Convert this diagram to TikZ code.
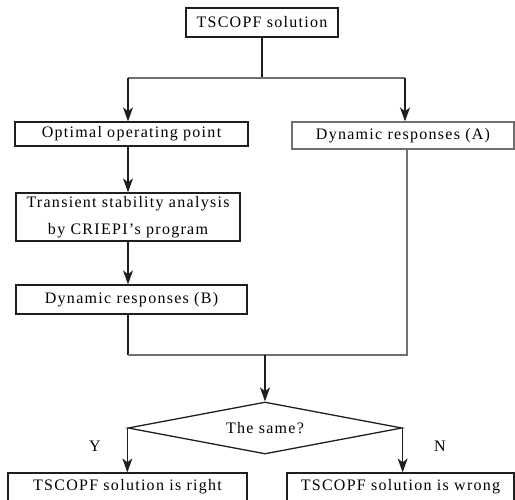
\documentclass[tikz,border=0pt]{standalone}
\usepackage{fontspec}
\setmainfont{Liberation Serif}[LetterSpace=8]
\usepackage{tikz}
\usetikzlibrary{arrows.meta,positioning,calc,shapes.geometric}
\definecolor{lineblack}{HTML}{1E1E1E}
\definecolor{linegray}{HTML}{707070}

\begin{document}
\begin{tikzpicture}[x=1pt,y=-1pt,>={Stealth[length=14pt,width=10pt,inset=4pt]},
    box/.style={draw=lineblack,line width=1.3pt,inner sep=0pt,align=center,
        font=\fontsize{16}{27}\selectfont},
    conn/.style={lineblack,line width=1.2pt},
    lbl/.style={font=\fontsize{16}{20}\selectfont}]
\useasboundingbox (0,0) rectangle (515,499);
\clip (0,0) rectangle (515,499);
\node[box,minimum width=152pt,minimum height=29pt] (sol) at (262,22.5) {TSCOPF solution};
\node[box,minimum width=233pt,minimum height=24pt] (opt) at (131.5,134) {Optimal operating point};
\node[box,draw=linegray,minimum width=222pt,minimum height=27pt] (dynA) at (403,135.5) {Dynamic responses (A)};
\node[box,minimum width=224pt,minimum height=48pt] (tsa) at (128,217) {Transient stability analysis\\ by CRIEPI's program};
\node[box,minimum width=231pt,minimum height=29pt] (dynB) at (131.5,299.5) {Dynamic responses (B)};
\node[box,diamond,aspect=5.27,minimum width=274pt,minimum height=52pt] (same) at (265,428) {The same?};
\node[box,minimum width=239pt,minimum height=28pt] (right) at (127.5,487) {TSCOPF solution is right};
\node[box,minimum width=227pt,minimum height=28pt] (wrong) at (400.5,487) {TSCOPF solution is wrong};
\node[lbl] (yes) at (95,446) {Y};
\node[lbl] (no) at (440,446) {N};
\coordinate (split) at (sol.south |- 0,78);
\coordinate (splitL) at (128,78);
\coordinate (splitR) at (405,78);
\coordinate (joinL) at (128,355);
\coordinate (joinR) at (407,355);
\coordinate (joinM) at (same.north |- joinL);
\draw[conn] (sol.south) -- (split);
\draw[conn,linegray] (splitL) -- (splitR);
\draw[conn,->] (splitL) -- (splitL |- opt.north);
\draw[conn,->] (splitR) -- (splitR |- dynA.north);
\draw[conn,->] (splitL |- opt.south) -- (tsa.north);
\draw[conn,->] (tsa.south) -- (tsa.south |- dynB.north);
\draw[conn] (joinL |- dynB.south) -- (joinL);
\draw[conn,linegray] (joinR |- dynA.south) -- (joinR) -- (joinL);
\draw[conn,->] (joinM) -- (same.north);
\draw[conn,->] (same.west) -- (same.west |- right.north);
\draw[conn,->] (same.east) -- (same.east |- wrong.north);
\end{tikzpicture}
\end{document}
